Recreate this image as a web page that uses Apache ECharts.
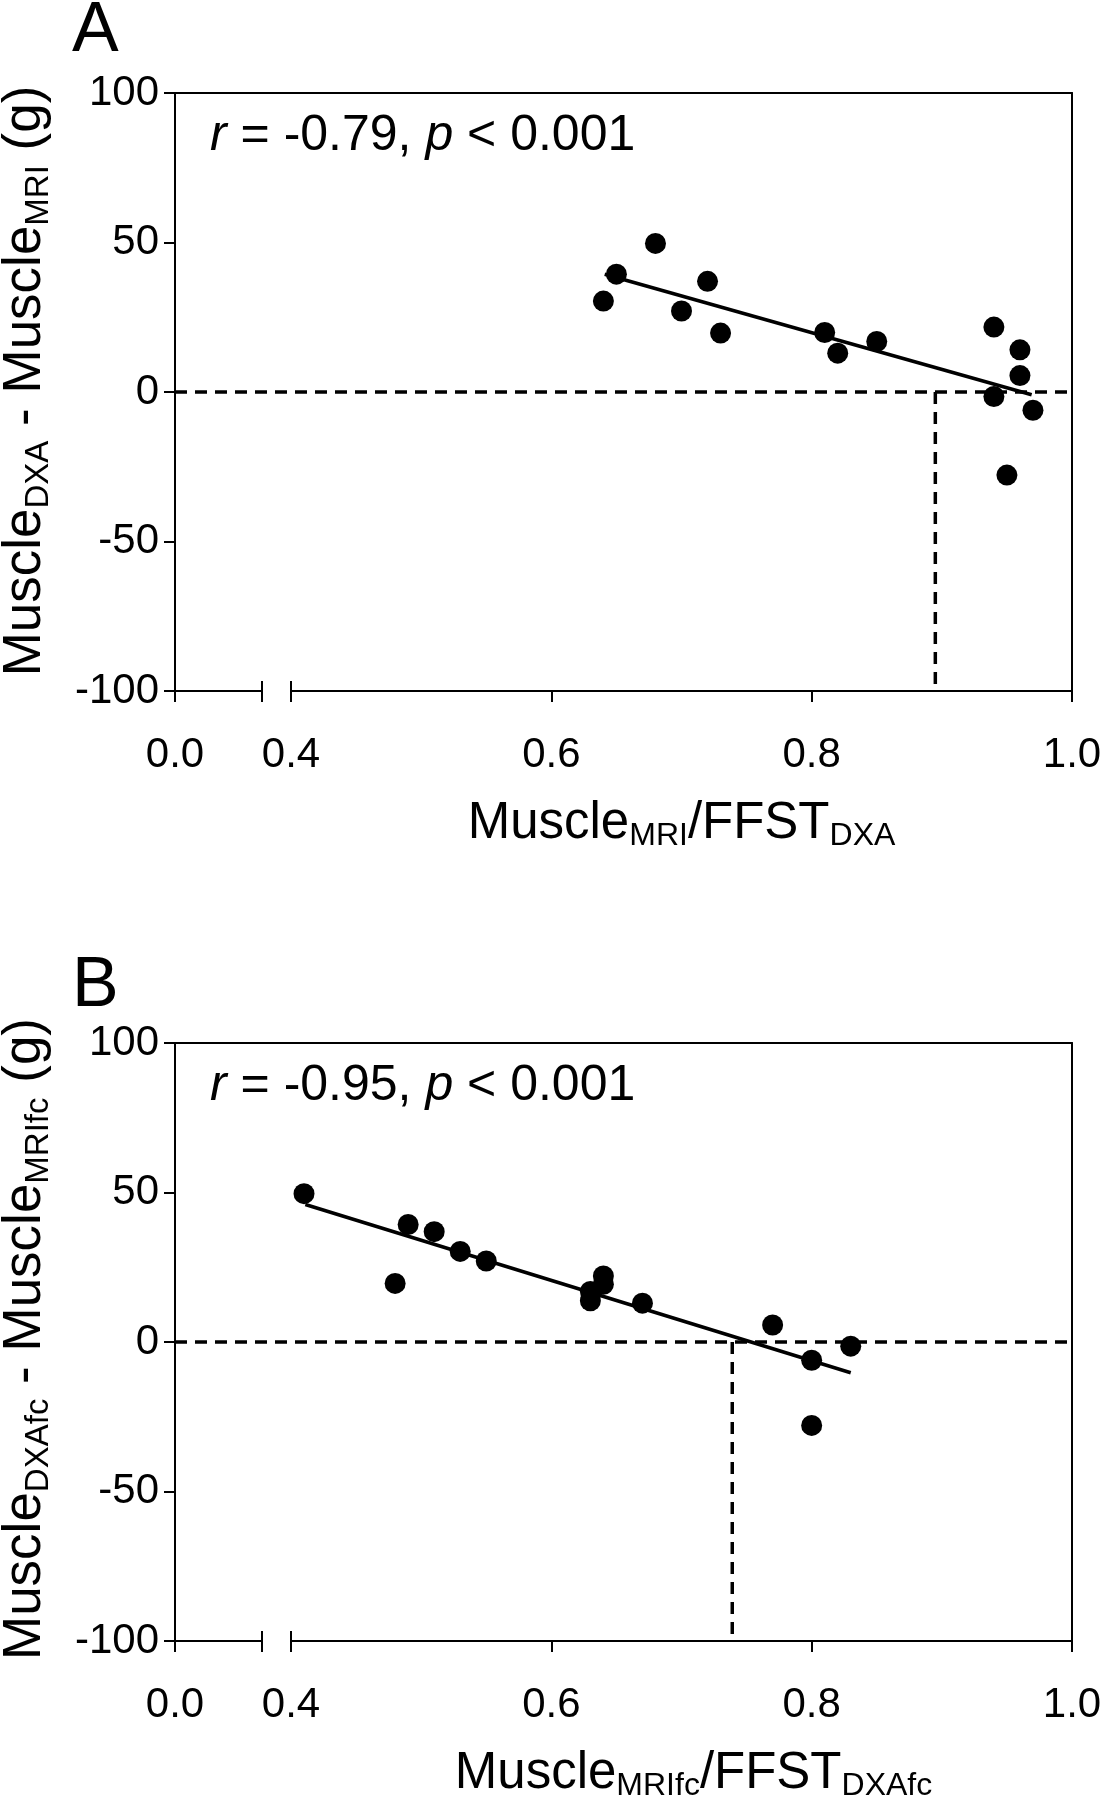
<!DOCTYPE html>
<html><head><meta charset="utf-8">
<script src="https://cdn.jsdelivr.net/npm/echarts@6/dist/echarts.min.js"></script>
<style>html,body{margin:0;padding:0;background:#fff}#c{width:1104px;height:1800px}</style>
</head><body><div id="c"></div>
<script>
const FONT = '"Liberation Sans", Arial, Helvetica, sans-serif';

// ---- Panel A ----
const aX = [0.64, 0.65, 0.68, 0.70, 0.72, 0.73, 0.81, 0.82, 0.85, 0.94, 0.96, 0.96, 0.94, 0.97, 0.95];
const aY = [30.4, 39.4, 49.7, 27.1, 37.0, 19.7, 19.9, 13.0, 16.9, 21.7, 14.1, 5.5, -1.5, -6.1, -27.8];
const aFitX = [0.641, 0.969];
const aFitY = [39.4, -0.9];
const aCutX = [0.895, 0.895];
const aCutY = [0, -100];
const aR = '-0.79';
const aP = '0.001';

// ---- Panel B ----
const bX = [0.41, 0.48, 0.49, 0.51, 0.53, 0.55, 0.63, 0.63, 0.64, 0.64, 0.67, 0.77, 0.80, 0.80, 0.83];
const bY = [49.6, 19.6, 39.3, 36.9, 30.3, 27.1, 16.9, 13.8, 22.1, 19.3, 13.0, 5.7, -6.1, -27.9, -1.4];
const bFitX = [0.411, 0.83];
const bFitY = [46.0, -10.3];
const bCutX = [0.739, 0.739];
const bCutY = [0, -100];
const bR = '-0.95';
const bP = '0.001';

// ---- Axes ----
const yTicks = [-100, -50, 0, 50, 100];
const xTicks = [0.4, 0.6, 0.8, 1.0];
const xStubTicks = [0.0];
const zeroRef = [0];

function zip(a, b) { return a.map((v, i) => [v, b[i]]); }

const grids = [], xAxes = [], yAxes = [], series = [], titles = [];
const BLK = '#000';
const axLine = {show: true, onZero: false, lineStyle: {color: BLK, width: 2}};
const noLine = {show: false, onZero: false};
const tickOut = {show: true, inside: false, length: 11, lineStyle: {color: BLK, width: 2}};
const tickLbl = {fontFamily: FONT, fontSize: 42, color: BLK};
const nameRich = {
  m: {fontFamily: FONT, fontSize: 51, lineHeight: 57, color: BLK},
  s: {fontFamily: FONT, fontSize: 32, lineHeight: 33, verticalAlign: 'bottom', color: BLK}
};
const yNameRich = {
  m: {fontFamily: FONT, fontSize: 53, lineHeight: 59, color: BLK},
  s: {fontFamily: FONT, fontSize: 33, lineHeight: 34, verticalAlign: 'bottom', color: BLK}
};

function addPanel(p) {
  const T = p.top, H = 598;
  const g0 = grids.length;
  grids.push({left: 175, top: T, width: 897, height: H, outerBoundsMode: 'none'});
  grids.push({left: 175, top: T, width: 87, height: H, outerBoundsMode: 'none'});
  grids.push({left: 291, top: T, width: 781, height: H, outerBoundsMode: 'none'});
  const xi = xAxes.length, yi = yAxes.length;
  // frame grid
  xAxes.push({gridIndex: g0, type: 'value', min: 0, max: 1, show: false});
  xAxes.push({gridIndex: g0, type: 'value', position: 'top', min: 0, max: 1,
    axisLine: axLine, axisTick: {show: false}, axisLabel: {show: false}, splitLine: {show: false}});
  // stub of broken axis
  xAxes.push({gridIndex: g0 + 1, type: 'value', position: 'bottom', min: 0, max: 0.1, interval: 0.1,
    axisLine: axLine, axisTick: tickOut,
    axisLabel: Object.assign({show: true, margin: 43, customValues: xStubTicks, formatter: v => v.toFixed(1)}, tickLbl),
    splitLine: {show: false}});
  xAxes.push({gridIndex: g0 + 1, type: 'value', position: 'bottom', min: 0, max: 0.1,
    axisLine: noLine, axisTick: {show: true, inside: true, length: 10, customValues: [0.1], lineStyle: {color: BLK, width: 2}},
    axisLabel: {show: false}, splitLine: {show: false}});
  // data axis
  xAxes.push({gridIndex: g0 + 2, type: 'value', position: 'bottom', min: 0.4, max: 1.0, interval: 0.2,
    axisLine: axLine, axisTick: tickOut,
    axisLabel: Object.assign({show: true, margin: 43, customValues: xTicks, formatter: v => v.toFixed(1)}, tickLbl),
    splitLine: {show: false},
    name: p.xName, nameLocation: 'middle', nameGap: 104,
    nameTextStyle: {rich: nameRich, padding: p.xNamePad}});
  xAxes.push({gridIndex: g0 + 2, type: 'value', position: 'bottom', min: 0.4, max: 1.0,
    axisLine: noLine, axisTick: {show: true, inside: true, length: 10, customValues: [0.4], lineStyle: {color: BLK, width: 2}},
    axisLabel: {show: false}, splitLine: {show: false}});

  yAxes.push({gridIndex: g0, type: 'value', position: 'left', min: -100, max: 100, interval: 50,
    axisLine: axLine, axisTick: tickOut,
    axisLabel: Object.assign({show: true, margin: 16, customValues: yTicks}, tickLbl),
    splitLine: {show: false},
    name: p.yName, nameLocation: 'middle', nameRotate: 90, nameGap: 120,
    nameTextStyle: {rich: yNameRich, padding: p.yNamePad}});
  yAxes.push({gridIndex: g0, type: 'value', position: 'right', min: -100, max: 100,
    axisLine: axLine, axisTick: {show: false}, axisLabel: {show: false}, splitLine: {show: false}});
  yAxes.push({gridIndex: g0 + 1, type: 'value', min: -100, max: 100, show: false});
  yAxes.push({gridIndex: g0 + 2, type: 'value', min: -100, max: 100, show: false});

  // zero reference line across whole frame
  series.push({type: 'scatter', xAxisIndex: xi, yAxisIndex: yi, data: [], silent: true,
    markLine: {silent: true, symbol: ['none', 'none'], label: {show: false},
      lineStyle: {color: BLK, width: 3.5, type: [12, 8], opacity: 1},
      data: zeroRef.map(v => ({yAxis: v}))}});
  // vertical dashed line
  series.push({type: 'line', xAxisIndex: xi + 4, yAxisIndex: yi + 3, data: zip(p.cutX, p.cutY),
    showSymbol: false, symbol: 'none', silent: true,
    lineStyle: {color: BLK, width: 3.5, type: [12, 8]}});
  // regression line
  series.push({type: 'line', xAxisIndex: xi + 4, yAxisIndex: yi + 3, data: zip(p.fitX, p.fitY),
    showSymbol: false, symbol: 'none', silent: true,
    lineStyle: {color: BLK, width: 3.5}});
  // points
  series.push({type: 'scatter', xAxisIndex: xi + 4, yAxisIndex: yi + 3, data: zip(p.x, p.y),
    symbol: 'circle', symbolSize: 21, itemStyle: {color: BLK, opacity: 1}, silent: true, z: 5});

  titles.push({text: p.label, left: 72, top: p.labelTop, padding: 0,
    textStyle: {fontFamily: FONT, fontSize: 70, fontWeight: 'normal', color: BLK}});
  titles.push({text: '{i|r} = ' + p.r + ', {i|p} < ' + p.p, left: 210, top: p.top + 18, padding: 0,
    textStyle: {fontFamily: FONT, fontSize: 50, fontWeight: 'normal', color: BLK,
      rich: {i: {fontFamily: FONT, fontSize: 50, fontStyle: 'italic', color: BLK}}}});
}

addPanel({top: 93, labelTop: -3, x: aX, y: aY, fitX: aFitX, fitY: aFitY, cutX: aCutX, cutY: aCutY, r: aR, p: aP, label: 'A',
  xName: '{m|Muscle}{s|MRI}{m|/FFST}{s|DXA}', xNamePad: [0, 0, 0, 0],
  yName: '{m|Muscle}{s|DXA}{m| - Muscle}{s|MRI}{m| (g)}', yNamePad: [0, 0, 0, 22]});
addPanel({top: 1043, labelTop: 952, x: bX, y: bY, fitX: bFitX, fitY: bFitY, cutX: bCutX, cutY: bCutY, r: bR, p: bP, label: 'B',
  xName: '{m|Muscle}{s|MRIfc}{m|/FFST}{s|DXAfc}', xNamePad: [0, 0, 0, 24],
  yName: '{m|Muscle}{s|DXAfc}{m| - Muscle}{s|MRIfc}{m| (g)}', yNamePad: [0, 0, 0, 6]});

const chart = echarts.init(document.getElementById('c'), null, {renderer: 'canvas'});
chart.setOption({
  animation: false,
  backgroundColor: '#fff',
  title: titles,
  grid: grids,
  xAxis: xAxes,
  yAxis: yAxes,
  series: series
});
</script></body></html>
